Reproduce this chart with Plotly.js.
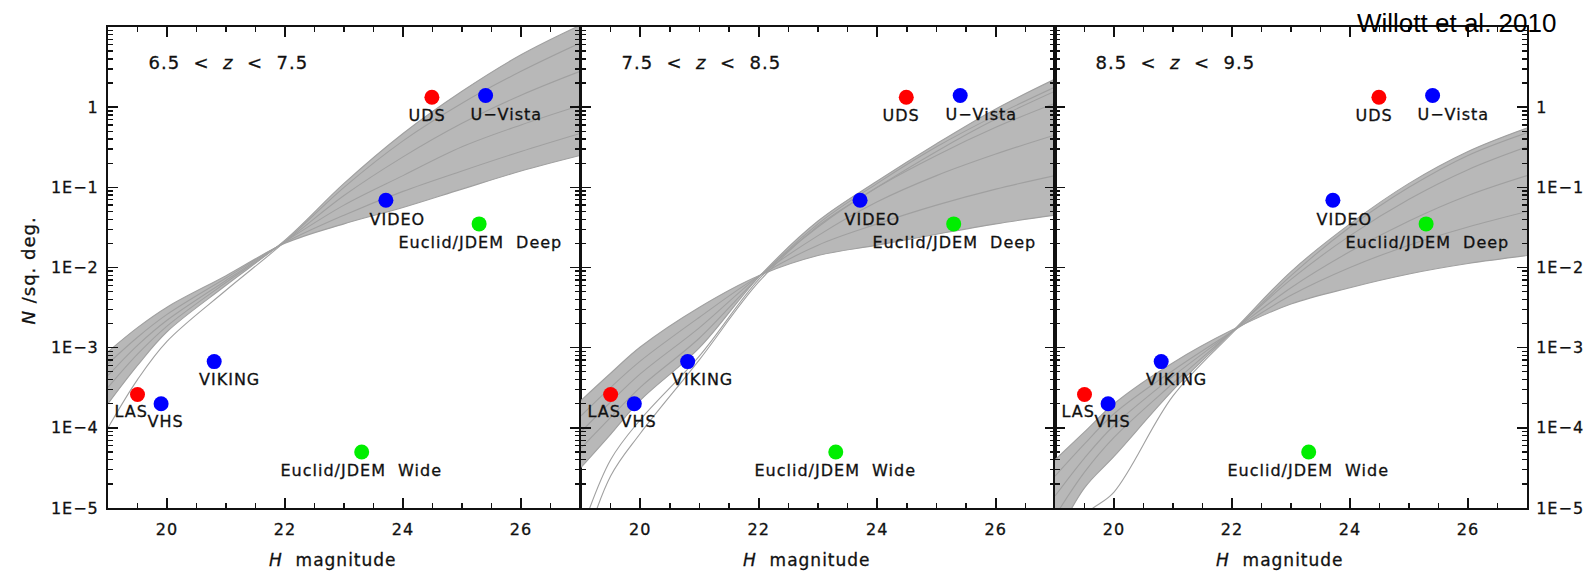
<!DOCTYPE html>
<html>
<head>
<meta charset="utf-8">
<script src="https://cdn.plot.ly/plotly-3.0.1.min.js"></script>
<style>
html,body{margin:0;padding:0;background:#fff;}
#chart{width:1593px;height:574px;}
#chart text{letter-spacing:1px;stroke:#111;stroke-width:0.3px;}
#chart g.annotation:last-of-type text{letter-spacing:0;stroke:none;}
</style>
</head>
<body>
<div id="chart"></div>
<script>
// ---------- data ----------
const panelLabels = ["6.5 < z < 7.5", "7.5 < z < 8.5", "8.5 < z < 9.5"];
const surveyNames = ["LAS", "VHS", "VIKING", "Euclid/JDEM Wide", "VIDEO", "Euclid/JDEM Deep", "UDS", "U\u2212Vista"];
const surveyDepthH = [19.5, 19.9, 20.8, 23.3, 23.71, 25.29, 24.49, 25.4];
const surveyNperSqDeg = [2.6e-4, 2.0e-4, 6.7e-4, 5.0e-5, 0.069, 0.035, 1.33, 1.4];
const surveyColors = ["#ff0000", "#0000ff", "#0000ff", "#00ee00", "#0000ff", "#00ee00", "#ff0000", "#0000ff"];
const yTickVals = [1e-5, 1e-4, 1e-3, 1e-2, 1e-1, 1];
const yTickText = ["1E\u22125", "1E\u22124", "1E\u22123", "1E\u22122", "1E\u22121", "1"];
const xTickVals = [20, 22, 24, 26];

// model number-count curves (N per sq. deg.) read at these H magnitudes
const curveH = [19, 19.5, 20, 21, 22, 23, 24, 25, 26, 27];
// panel 1 : 6.5<z<7.5
const p1_c1 = [8.9e-4, 1.78e-3, 3.2e-3, 7.9e-3, 2.0e-2, 3.5e-2, 5.6e-2, 9.5e-2, 0.16, 0.25];
const p1_c2 = [6.3e-4, 1.35e-3, 2.6e-3, 7.4e-3, 2.05e-2, 4.5e-2, 8.9e-2, 0.16, 0.28, 0.47];
const p1_c3 = [4.5e-4, 1.07e-3, 2.2e-3, 6.9e-3, 2.1e-2, 6.0e-2, 0.14, 0.32, 0.60, 1.05];
const p1_c4 = [3.2e-4, 8.3e-4, 1.86e-3, 6.5e-3, 2.1e-2, 7.9e-2, 0.24, 0.63, 1.41, 2.8];
const p1_c5 = [2.0e-4, 6.0e-4, 1.58e-3, 6.0e-3, 2.2e-2, 0.112, 0.47, 1.58, 4.5, 10.5];
const p1_c6 = [1.0e-4, 4.0e-4, 1.2e-3, 5.2e-3, 2.1e-2, 0.10, 0.38, 1.12, 2.8, 6.3];
// panel 2 : 7.5<z<8.5
const p2_c1 = [2.2e-4, 4.8e-4, 1.02e-3, 3.2e-3, 7.9e-3, 1.41e-2, 1.9e-2, 2.6e-2, 3.5e-2, 4.5e-2];
const p2_c2 = [1.41e-4, 3.2e-4, 6.8e-4, 2.4e-3, 7.8e-3, 1.9e-2, 3.5e-2, 6.0e-2, 9.5e-2, 0.14];
const p2_c3 = [8.9e-5, 2.1e-4, 4.7e-4, 1.78e-3, 7.8e-3, 2.5e-2, 6.6e-2, 0.14, 0.26, 0.45];
const p2_c4 = [5.6e-5, 1.35e-4, 3.2e-4, 1.32e-3, 7.6e-3, 3.2e-2, 0.10, 0.25, 0.56, 1.12];
const p2_c5 = [3.2e-5, 8.3e-5, 2.2e-4, 1.0e-3, 7.6e-3, 3.8e-2, 0.12, 0.35, 0.95, 2.24];
const p2_c6 = [5.0e-6, 4.0e-5, 1.26e-4, 7.9e-4, 7.1e-3, 3.5e-2, 0.112, 0.32, 0.79, 1.78];
const p2_c7 = [2.5e-6, 2.5e-5, 8.5e-5, 7.1e-4, 6.6e-3, 3.3e-2, 0.10, 0.28, 0.71, 1.58];
// panel 3 : 8.5<z<9.5
const p3_c1 = [4.0e-5, 8.9e-5, 2.0e-4, 6.5e-4, 1.66e-3, 3.5e-3, 5.6e-3, 8.3e-3, 1.12e-2, 1.41e-2];
const p3_c2 = [2.5e-5, 6.3e-5, 1.5e-4, 5.2e-4, 1.58e-3, 4.5e-3, 1.0e-2, 1.9e-2, 3.2e-2, 5.0e-2];
const p3_c3 = [1.41e-5, 4.2e-5, 1.07e-4, 4.4e-4, 1.58e-3, 5.6e-3, 1.58e-2, 3.8e-2, 7.9e-2, 0.14];
const p3_c4 = [7.9e-6, 2.8e-5, 7.6e-5, 3.6e-4, 1.58e-3, 7.1e-3, 2.5e-2, 7.1e-2, 0.166, 0.32];
const p3_c5 = [4.0e-6, 1.78e-5, 4.4e-5, 2.95e-4, 1.58e-3, 8.9e-3, 3.5e-2, 0.112, 0.28, 0.55];
const p3_c6 = [1.0e-6, 7.9e-6, 1.58e-5, 2.5e-4, 1.51e-3, 7.9e-3, 3.2e-2, 0.10, 0.25, 0.48];

const panelCurves = [
  [p1_c1, p1_c2, p1_c3, p1_c4, p1_c5, p1_c6],
  [p2_c1, p2_c2, p2_c3, p2_c4, p2_c5, p2_c6, p2_c7],
  [p3_c1, p3_c2, p3_c3, p3_c4, p3_c5, p3_c6]
];
// which curves bound the dense band (shallowest, steepest)
const bandEdges = [[0, 4], [0, 4], [0, 4]];

// ---------- layout geometry ----------
const W = 1593, H = 574;
const xDomPx = [[108, 580], [581, 1055], [1055, 1527]];
const yDomPx = [27, 508];
const FONT = "DejaVu Sans, sans-serif";
const INK = "#111";

const traces = [];
const annotations = [];
const layout = {
  width: W, height: H,
  margin: {l: 0, r: 0, t: 0, b: 0},
  paper_bgcolor: "#fff", plot_bgcolor: "#fff",
  showlegend: false,
  font: {family: FONT, color: INK, size: 15},
  annotations: annotations
};

const minorY = [];
for (let e = -5; e <= 0; e++) for (let m = 2; m <= 9; m++) minorY.push(m * Math.pow(10, e));

for (let p = 0; p < 3; p++) {
  const sfx = p === 0 ? "" : String(p + 1);
  const xa = "x" + sfx, ya = "y" + sfx;
  const curves = panelCurves[p];
  const [a, b] = bandEdges[p];
  // dense band fill
  traces.push({x: curveH, y: curves[a], xaxis: xa, yaxis: ya, mode: "lines",
    line: {color: "rgba(0,0,0,0)", width: 0, shape: "spline"}, hoverinfo: "skip"});
  traces.push({x: curveH, y: curves[b], xaxis: xa, yaxis: ya, mode: "lines", fill: "tonexty",
    fillcolor: "#b8b8b8", line: {color: "rgba(0,0,0,0)", width: 0, shape: "spline"}, hoverinfo: "skip"});
  curves.forEach(c => traces.push({x: curveH, y: c, xaxis: xa, yaxis: ya, mode: "lines",
    line: {color: "#a0a0a0", width: 1.1, shape: "spline"}, hoverinfo: "skip"}));
  // survey points
  traces.push({x: surveyDepthH, y: surveyNperSqDeg, xaxis: xa, yaxis: ya, mode: "markers",
    marker: {size: 15, color: surveyColors, line: {width: 0}}, hoverinfo: "skip"});

  const xd = xDomPx[p];
  layout["xaxis" + sfx] = {
    domain: [xd[0] / W, xd[1] / W], anchor: ya, range: [19, 27],
    tickmode: "array", tickvals: xTickVals, ticks: "inside", ticklen: 10, tickwidth: 1.6, tickcolor: INK,
    minor: {tick0: 19, dtick: 0.5, ticks: "inside", ticklen: 5, tickwidth: 1.4, tickcolor: INK},
    showline: true, linewidth: 2, linecolor: INK, mirror: "ticks",
    showgrid: false, zeroline: false, tickfont: {family: FONT, size: 16, color: INK}, ticklabelstandoff: 6
  };
  layout["yaxis" + sfx] = {
    domain: [1 - yDomPx[1] / H, 1 - yDomPx[0] / H], anchor: xa, type: "log", range: [-5, 1],
    tickmode: "array", tickvals: yTickVals, ticktext: yTickText,
    ticks: "inside", ticklen: 10, tickwidth: 1.6, tickcolor: INK,
    minor: {tickmode: "array", tickvals: minorY, ticks: "inside", ticklen: 5, tickwidth: 1.4, tickcolor: INK},
    showline: true, linewidth: 2, linecolor: INK, mirror: "ticks",
    showgrid: false, zeroline: false,
    showticklabels: p !== 1, side: p === 2 ? "right" : "left",
    tickfont: {family: FONT, size: 16, color: INK}, ticklabelstandoff: 4
  };

  // panel redshift label
  const parts = panelLabels[p].split(" ");
  const NB = "\u00a0\u00a0";
  annotations.push({xref: "paper", yref: "paper", x: (xd[0] + 47) / W, y: 1 - 62 / H,
    xanchor: "left", yanchor: "middle", showarrow: false,
    text: parts[0] + NB + parts[1] + NB + "<i>" + parts[2] + "</i>" + NB + parts[3] + NB + parts[4],
    font: {family: FONT, size: 18, color: INK}});
  // x-axis title
  annotations.push({xref: "paper", yref: "paper", x: ((xd[0] + xd[1]) / 2 - 11) / W, y: 1 - 560 / H,
    xanchor: "center", yanchor: "middle", showarrow: false,
    text: "<i>H</i>\u00a0\u00a0magnitude", font: {family: FONT, size: 17, color: INK}});

  // survey labels (placed just below each point)
  const lblShift = [[-7, -17], [4, -18], [15, -18], [0, -19], [12, -19], [1, -19], [-5, -18], [21, -19]];
  surveyNames.forEach((nm, i) => {
    annotations.push({xref: xa, yref: ya, x: surveyDepthH[i], y: Math.log10(surveyNperSqDeg[i]),
      xshift: lblShift[i][0], yshift: lblShift[i][1], xanchor: "center", yanchor: "middle",
      showarrow: false, text: nm.replace(" ", "\u00a0\u00a0"), font: {family: FONT, size: 16, color: INK}});
  });
}

// y-axis title
annotations.push({xref: "paper", yref: "paper", x: 28 / W, y: 1 - 271 / H, xanchor: "center", yanchor: "middle",
  showarrow: false, textangle: -90, text: "<i>N</i>\u00a0/sq.\u00a0deg.", font: {family: FONT, size: 18, color: INK}});
// citation
annotations.push({xref: "paper", yref: "paper", x: 1558 / W, y: 1 - 23 / H, xanchor: "right", yanchor: "middle",
  showarrow: false, text: "Willott et al. 2010", font: {family: "Liberation Sans, Arial, sans-serif", size: 26, color: "#000"}});

Plotly.newPlot("chart", traces, layout, {displayModeBar: false, staticPlot: true});
</script>
</body>
</html>
